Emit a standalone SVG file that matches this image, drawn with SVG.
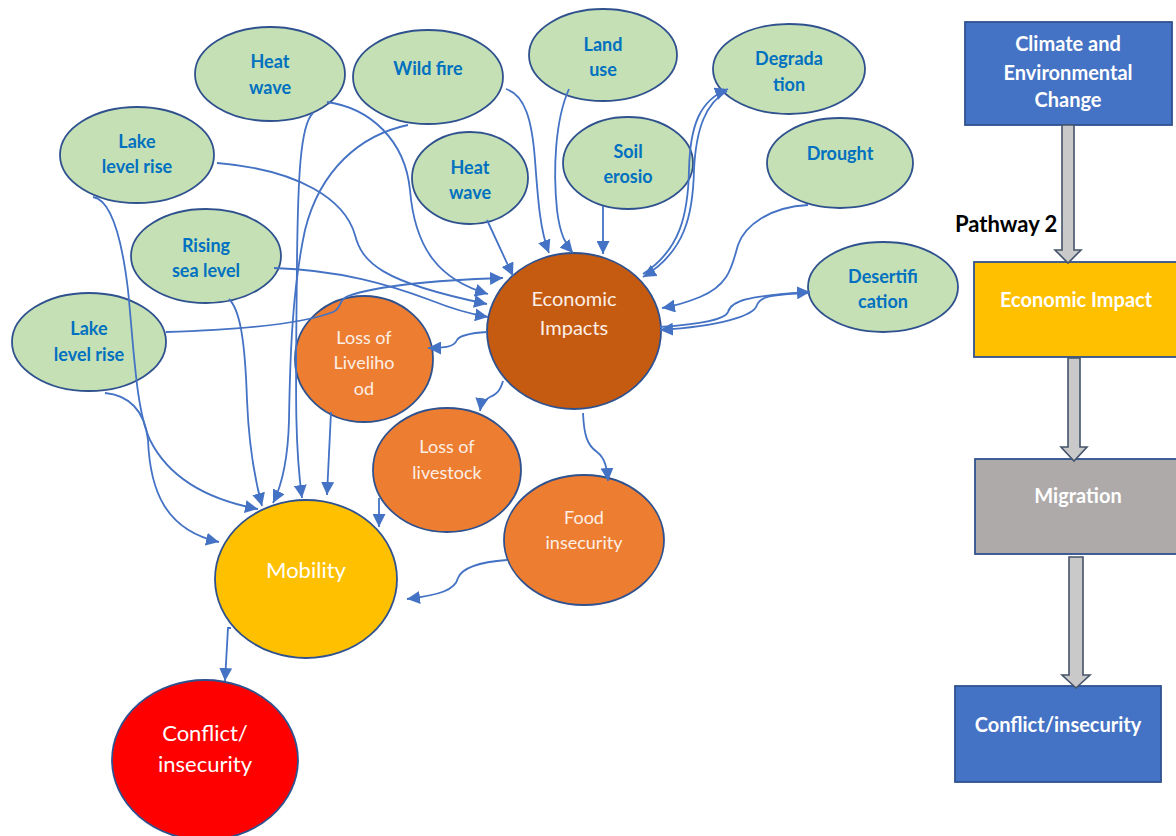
<svg xmlns="http://www.w3.org/2000/svg" width="1176" height="836" viewBox="0 0 1176 836">
<defs>
<marker id="ah" markerUnits="userSpaceOnUse" markerWidth="15" markerHeight="13" refX="13" refY="6.5" orient="auto">
<path d="M0,0 L13,6.5 L0,13 Z" fill="#4472C4"/>
</marker>
<style>
.g{fill:#C5E0B4;stroke:#2F528F;stroke-width:1.8}
.gt{font-family:Lato,"Liberation Sans",sans-serif;font-weight:bold;font-size:18px;fill:#0070C0;text-anchor:middle}
.o{fill:#ED7D31;stroke:#2F528F;stroke-width:1.8}
.ot{font-family:Lato,"Liberation Sans",sans-serif;font-size:18px;fill:#FCEFE6;text-anchor:middle}
.bt{font-family:Lato,"Liberation Sans",sans-serif;font-size:22px;fill:#FFFFFF;text-anchor:middle}
.c{fill:none;stroke:#4472C4;stroke-width:1.8;marker-end:url(#ah)}
.r{stroke:#2F528F;stroke-width:1.8}
.rt{font-family:Lato,"Liberation Sans",sans-serif;font-weight:bold;font-size:20px;fill:#FFFFFF;text-anchor:middle}
.ba{fill:#C9C9C9;stroke:#44546A;stroke-width:1.6}
</style>
</defs>
<rect width="1176" height="836" fill="#FFFFFF"/>

<g id="heatwave1"><ellipse class="g" cx="270" cy="74" rx="75" ry="47"/><text class="gt" x="270" y="68">Heat</text><text class="gt" x="270" y="94">wave</text></g>
<g id="wildfire"><ellipse class="g" cx="428" cy="77" rx="75" ry="47"/><text class="gt" x="428" y="75">Wild fire</text></g>
<g id="landuse"><ellipse class="g" cx="603" cy="55" rx="74" ry="46"/><text class="gt" x="603" y="51">Land</text><text class="gt" x="603" y="76">use</text></g>
<g id="degradation"><ellipse class="g" cx="789" cy="69" rx="76" ry="45"/><text class="gt" x="789" y="65">Degrada</text><text class="gt" x="789" y="91">tion</text></g>
<g id="lakelevel1"><ellipse class="g" cx="137" cy="155" rx="77" ry="48"/><text class="gt" x="137" y="148">Lake</text><text class="gt" x="137" y="173">level rise</text></g>
<g id="heatwave2"><ellipse class="g" cx="470" cy="178" rx="58" ry="46"/><text class="gt" x="470" y="174">Heat</text><text class="gt" x="470" y="199">wave</text></g>
<g id="soilerosion"><ellipse class="g" cx="628" cy="163" rx="65" ry="46"/><text class="gt" x="628" y="158">Soil</text><text class="gt" x="628" y="183">erosio</text></g>
<g id="drought"><ellipse class="g" cx="840" cy="163" rx="73" ry="45"/><text class="gt" x="840" y="160">Drought</text></g>
<g id="risingsea"><ellipse class="g" cx="206" cy="256" rx="75" ry="47"/><text class="gt" x="206" y="252">Rising</text><text class="gt" x="206" y="277">sea level</text></g>
<g id="desertification"><ellipse class="g" cx="883" cy="287" rx="75" ry="45"/><text class="gt" x="883" y="283">Desertifi</text><text class="gt" x="883" y="308">cation</text></g>
<g id="lakelevel2"><ellipse class="g" cx="89" cy="342" rx="77" ry="49"/><text class="gt" x="89" y="335">Lake</text><text class="gt" x="89" y="361">level rise</text></g>

<g id="economic"><ellipse cx="574" cy="331" rx="87" ry="78" fill="#C55A11" stroke="#2F528F" stroke-width="1.8"/><text class="ot" style="font-size:20px" x="574" y="306">Economic</text><text class="ot" style="font-size:20px" x="574" y="335">Impacts</text></g>
<g id="livelihood"><ellipse class="o" cx="364" cy="359" rx="69" ry="63"/><text class="ot" x="364" y="344">Loss of</text><text class="ot" x="364" y="369">Liveliho</text><text class="ot" x="364" y="395">od</text></g>
<g id="livestock"><ellipse class="o" cx="447" cy="470" rx="74" ry="62"/><text class="ot" x="447" y="453">Loss of</text><text class="ot" x="447" y="479">livestock</text></g>
<g id="food"><ellipse class="o" cx="584" cy="540" rx="80" ry="65"/><text class="ot" x="584" y="524">Food</text><text class="ot" x="584" y="549">insecurity</text></g>
<g id="mobility"><ellipse cx="306" cy="579" rx="91" ry="79" fill="#FFC000" stroke="#2F528F" stroke-width="1.8"/><text class="bt" x="306" y="578">Mobility</text></g>
<g id="conflict"><ellipse cx="205" cy="760" rx="93" ry="80" fill="#FF0000" stroke="#2F528F" stroke-width="1.8"/><text class="bt" x="205" y="741">Conflict/</text><text class="bt" x="205" y="772">insecurity</text></g>

<g id="connectors">
<path class="c" d="M327,102 C370,108 405,140 410,190 C415,250 440,280 488,294"/>
<path class="c" d="M217,163 C300,170 345,200 355,235 C362,262 380,282 487,304"/>
<path class="c" d="M274,268 C340,270 390,285 430,300 C450,308 470,314 488,317"/>
<path class="c" d="M166,332 C230,330 300,325 333,312 C342,308 338,300 348,296 C380,285 440,280 503,278"/>
<path class="c" d="M506,89 C525,95 532,120 535,160 C538,200 540,230 549,253"/>
<path class="c" d="M569,89 C555,120 553,170 557,210 C560,235 566,245 573,253"/>
<path class="c" d="M603,206 L603,254"/>
<path class="c" d="M487,220 L513,276"/>
<path class="c" d="M643,274 C680,250 688,215 689,170 C690,125 700,100 728,89"/>
<path class="c" d="M727,91 C706,103 696,128 694,170 C693,215 685,252 643,277"/>
<path class="c" d="M808,205 C770,207 745,225 738,245 C732,265 730,285 700,297 C685,303 675,306 662,308"/>
<path class="c" d="M660,327 C700,324 725,320 728,312 C731,301 745,296 810,292"/>
<path class="c" d="M810,293 C770,294 760,297 757,305 C754,316 720,326 660,330"/>
<path class="c" d="M487,332 C470,333 460,335 457,340 C454,347 445,348 428,348"/>
<path class="c" d="M503,381 C500,392 495,395 490,397 C484,400 481,404 480,411"/>
<path class="c" d="M583,413 C584,435 587,445 597,452 C605,458 607,468 608,481"/>
<path class="c" d="M93,197 C112,200 122,240 128,290 C134,350 136,410 150,440 C170,480 210,500 258,509"/>
<path class="c" d="M229,299 C240,310 245,340 247,400 C249,450 255,480 262,506"/>
<path class="c" d="M313,113 C300,125 298,180 297,260 C296,380 294,440 302,498"/>
<path class="c" d="M408,125 C360,135 320,170 305,230 C292,290 290,360 289,420 C288,460 282,485 273,503"/>
<path class="c" d="M331,412 L327,495"/>
<path class="c" d="M379,498 L379,527"/>
<path class="c" d="M507,560 C480,562 462,568 458,578 C455,590 440,595 407,599"/>
<path class="c" d="M105,393 C128,395 145,410 148,440 C150,490 165,530 219,542"/>
<path class="c" d="M231,628 L228,628 L225,681"/>
</g>

<g id="climate"><rect class="r" x="965" y="22" width="207" height="103" fill="#4472C4"/><text class="rt" x="1068" y="51">Climate and</text><text class="rt" x="1068" y="80">Environmental</text><text class="rt" x="1068" y="107">Change</text></g>
<g id="pathway"><text x="955" y="232" style="font-family:Lato,'Liberation Sans',sans-serif;font-weight:bold;font-size:22px;fill:#000000">Pathway 2</text></g>
<g id="econimpact"><rect class="r" x="974" y="262" width="204" height="95" fill="#FFC000"/><text class="rt" x="1076" y="307">Economic Impact</text></g>
<g id="migration"><rect class="r" x="975" y="459" width="203" height="95" fill="#AEAAAA"/><text class="rt" x="1078" y="503">Migration</text></g>
<g id="conflictbox"><rect class="r" x="955" y="686" width="206" height="96" fill="#4472C4"/><text class="rt" x="1058" y="732">Conflict/insecurity</text></g>

<g id="pathway-arrows">
<polygon class="ba" points="1062,125 1074,125 1074,250 1081,250 1068,263 1055,250 1062,250"/>
<polygon class="ba" points="1068,358 1080,358 1080,447 1087,447 1074,461 1061,447 1068,447"/>
<polygon class="ba" points="1069,557 1083,557 1083,675 1090,675 1076,688 1062,675 1069,675"/>
</g>
</svg>
